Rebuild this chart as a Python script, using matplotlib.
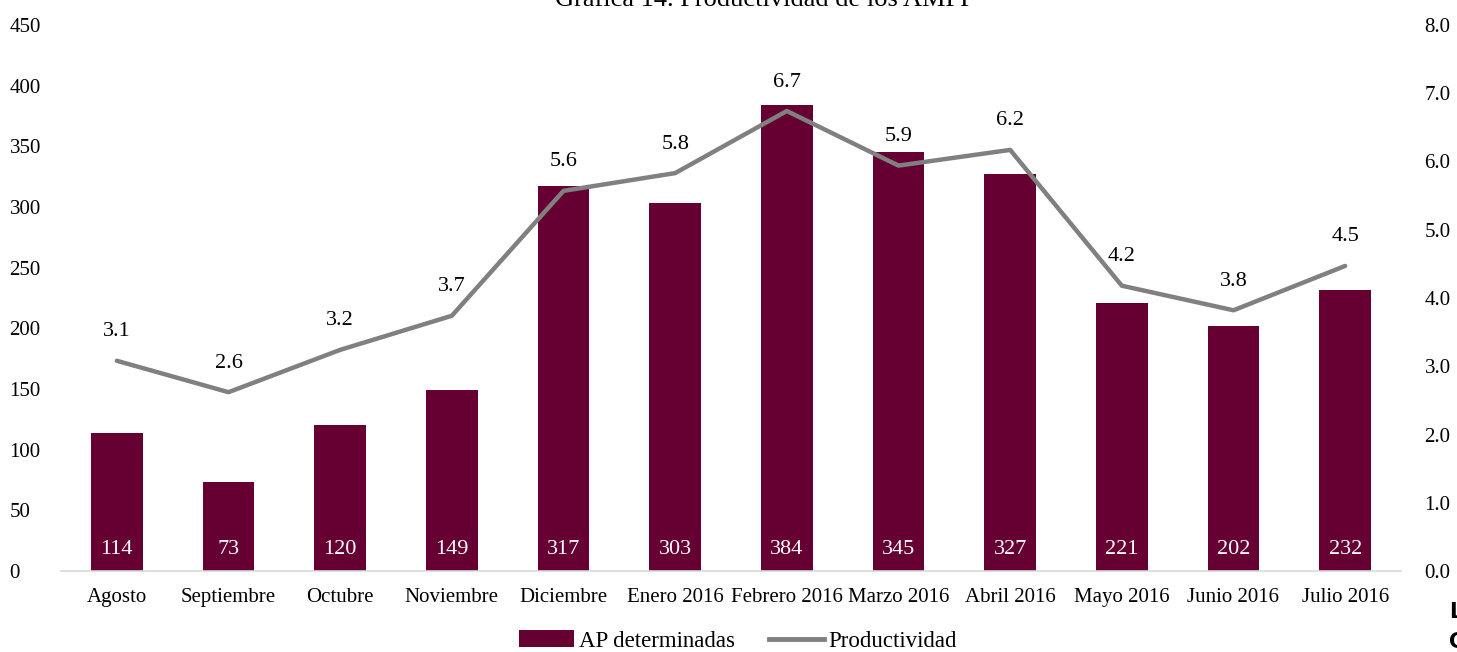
import matplotlib
matplotlib.use("Agg")
import matplotlib.pyplot as plt
import numpy as np
from matplotlib.lines import Line2D
from matplotlib.patches import Patch

categories = ["Agosto", "Septiembre", "Octubre", "Noviembre", "Diciembre", "Enero 2016",
              "Febrero 2016", "Marzo 2016", "Abril 2016", "Mayo 2016", "Junio 2016", "Julio 2016"]
ap_determinadas = [114, 73, 120, 149, 317, 303, 384, 345, 327, 221, 202, 232]
productividad = [3.08, 2.62, 3.24, 3.74, 5.57, 5.83, 6.74, 5.94, 6.17, 4.18, 3.82, 4.47]
left_ticks = [0, 50, 100, 150, 200, 250, 300, 350, 400, 450]
right_ticks = [0, 1, 2, 3, 4, 5, 6, 7, 8]

bar_color = "#660033"
line_color = "#808080"
serif = "Liberation Serif"
plt.rcParams["font.family"] = serif

W, H = 1457, 652
fig = plt.figure(figsize=(W / 100, H / 100), dpi=100)
ax = fig.add_axes([61 / W, 1 - 571 / H, (1401 - 61) / W, (571 - 25) / H])
ax2 = ax.twinx()

x = np.arange(len(categories))
ax.bar(x, ap_determinadas, width=0.46, color=bar_color, zorder=2)
for xi, v in zip(x, ap_determinadas):
    ax.text(xi, 10, str(v), ha="center", va="bottom", color="white", fontsize=16)

ax2.plot(x, productividad, color=line_color, lw=3.2, solid_capstyle="round", zorder=3)
for xi, v in zip(x, productividad):
    ax2.annotate(f"{v:.1f}", (xi, v), xytext=(0, 14), textcoords="offset points",
                 ha="center", va="bottom", fontsize=16, color="black")

ax.set_xlim(-0.5, len(categories) - 0.5)
ax.set_ylim(0, 450)
ax2.set_ylim(0, 8)
ax.set_yticks(left_ticks)
ax2.set_yticks(right_ticks)
ax2.set_yticklabels([f"{t:.1f}" for t in right_ticks])
ax.set_xticks(x)
ax.set_xticklabels(categories)

for a in (ax, ax2):
    for s in a.spines.values():
        s.set_visible(False)
    a.tick_params(length=0, labelsize=15)
ax.spines["bottom"].set_visible(True)
ax.spines["bottom"].set_color("#d9d9d9")
ax.spines["bottom"].set_linewidth(1.2)
ax.tick_params(axis="x", pad=12)
ax.tick_params(axis="y", pad=37)
ax2.tick_params(axis="y", pad=17)
for lbl in ax.get_yticklabels():
    lbl.set_horizontalalignment("left")

handles = [Patch(facecolor=bar_color, label="AP determinadas"),
           Line2D([0], [0], color=line_color, lw=3.5, label="Productividad")]
fig.legend(handles=handles, loc="center", bbox_to_anchor=(738 / W, 1 - 641 / H), ncol=2,
           frameon=False, fontsize=16.5, handlelength=2.4, handleheight=0.75,
           handletextpad=0.2, columnspacing=1.5)

fig.text(765 / W, 1 - 6 / H, "Gráfica 14. Productividad de los AMPP", ha="center",
         va="baseline", fontsize=19)
fig.text(1449 / W, 1 - 612 / H, "L", ha="left", va="center", fontsize=15,
         fontweight="bold", family="DejaVu Sans")
fig.text(1449 / W, 1 - 642 / H, "C", ha="left", va="center", fontsize=15,
         fontweight="bold", family="DejaVu Sans")

fig.savefig("out.png", dpi=100)
